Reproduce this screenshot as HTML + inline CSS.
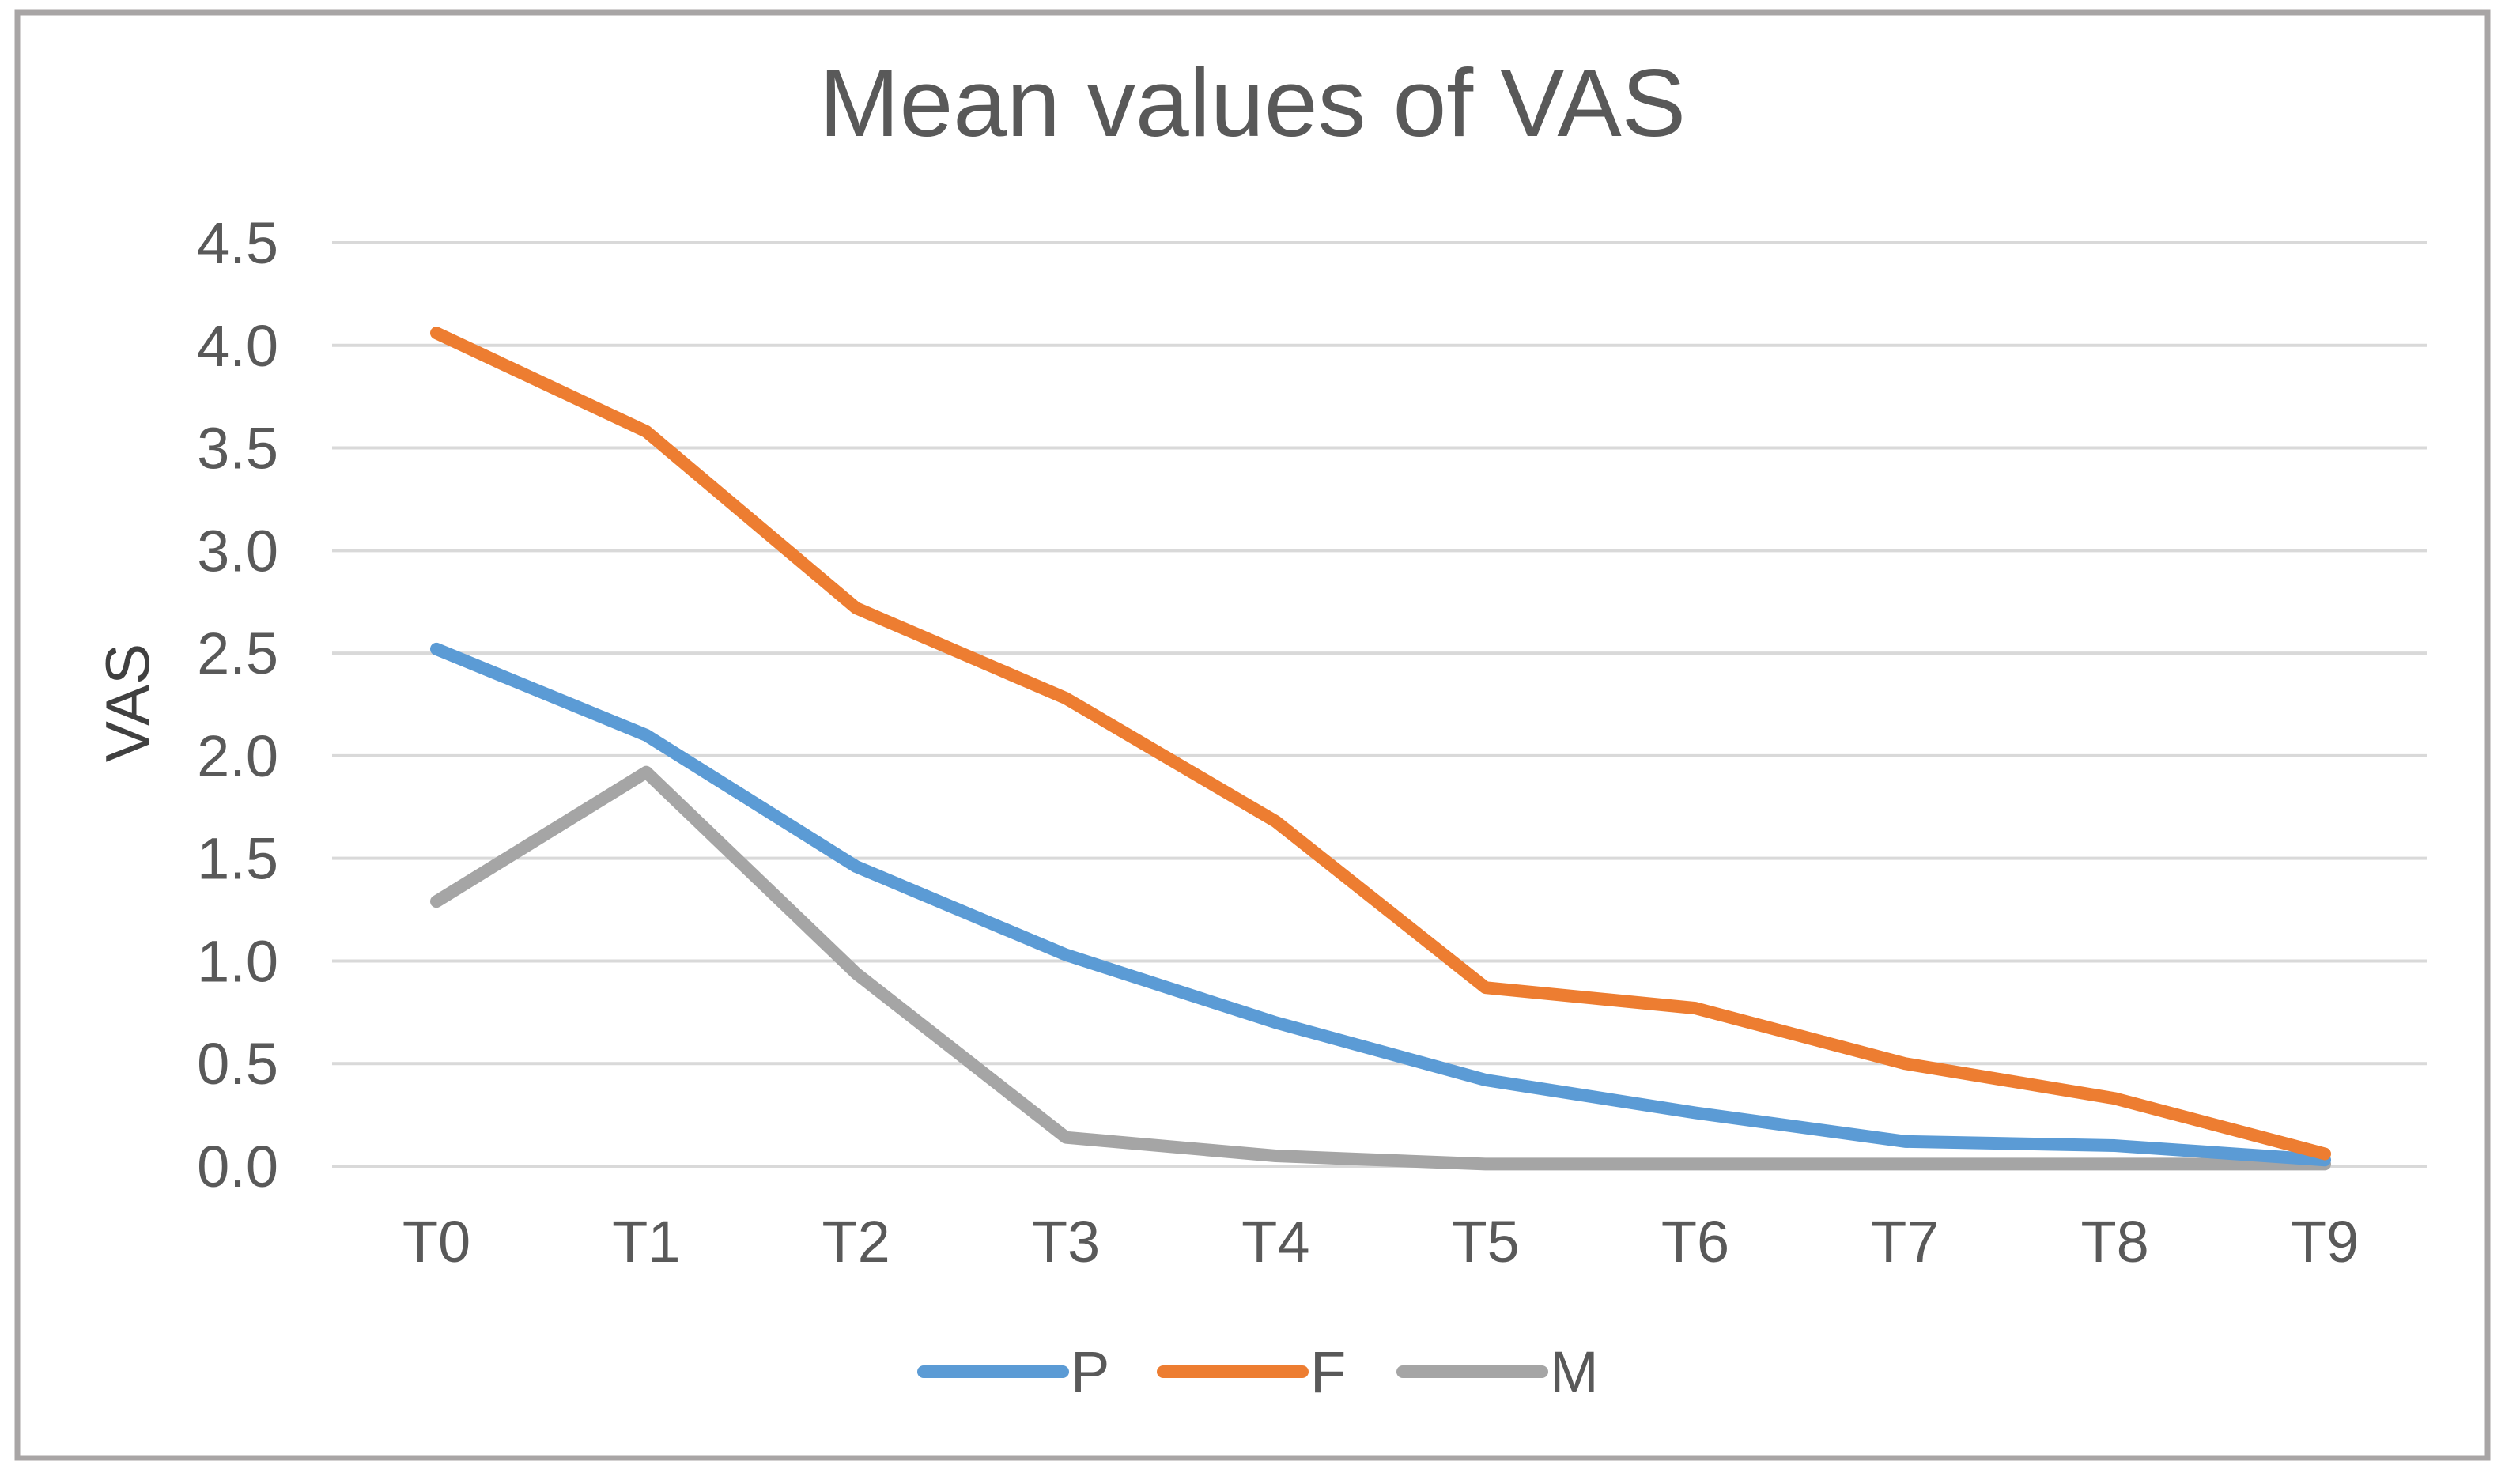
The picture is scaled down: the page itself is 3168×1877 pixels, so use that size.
<!DOCTYPE html>
<html><head><meta charset="utf-8"><style>
html,body{margin:0;padding:0;background:#fff;}
svg{display:block;font-family:"Liberation Sans",sans-serif;}
</style></head><body>
<svg id="chart" width="3168" height="1877" viewBox="0 0 3168 1877" xmlns="http://www.w3.org/2000/svg">
<rect x="22" y="16" width="3124" height="1828" fill="#fff" stroke="#a8a5a5" stroke-width="7"/>
<text x="1584" y="172" font-size="122" fill="#595959" text-anchor="middle">Mean values of VAS</text>
<text transform="translate(188,889) rotate(-90)" font-size="78" fill="#404040" text-anchor="middle">VAS</text>
<g id="grid"></g><g id="yticks"></g><g id="xticks"></g><g id="series"></g><g id="legend"></g>
</svg>
<script>
const categories = ["T0","T1","T2","T3","T4","T5","T6","T7","T8","T9"];
const seriesNames = ["P","F","M"];
const valuesP = [2.52,2.10,1.46,1.03,0.70,0.42,0.26,0.12,0.10,0.03];
const valuesF = [4.06,3.58,2.72,2.28,1.68,0.87,0.77,0.50,0.33,0.06];
const valuesM = [1.29,1.92,0.94,0.14,0.05,0.01,0.01,0.01,0.01,0.01];
const yTickLabels = ["0.0","0.5","1.0","1.5","2.0","2.5","3.0","3.5","4.0","4.5"];
const yTickValues = [0,0.5,1,1.5,2,2.5,3,3.5,4,4.5];

const NS="http://www.w3.org/2000/svg";
const plotL=420, plotR=3069, y0=1475, yTop=307, yMax=4.5;
const x0=552, x9=2940;
function xs(i){return x0+(x9-x0)*i/(categories.length-1);}
function ys(v){return y0-(y0-yTop)*v/yMax;}
function mk(tag,attrs,parent){const e=document.createElementNS(NS,tag);for(const k in attrs)e.setAttribute(k,attrs[k]);parent.appendChild(e);return e;}
const grid=document.getElementById('grid'), yt=document.getElementById('yticks'), xt=document.getElementById('xticks');
yTickValues.forEach((v,i)=>{
  const l=mk('line',{x1:plotL,x2:plotR,y1:ys(v),y2:ys(v),stroke:'#d9d9d9','stroke-width':4},grid);
  
  
  const t=mk('text',{x:352,y:ys(v)+26,'font-size':74,fill:'#595959','text-anchor':'end'},yt);
  t.textContent=yTickLabels[i];
  
  
});
categories.forEach((c,i)=>{
  const t=mk('text',{x:xs(i),y:1596,'font-size':74,fill:'#595959','text-anchor':'middle'},xt);
  t.textContent=c;
  
  
});
const colors=["#5b9bd5","#ed7d31","#a5a5a5"];
const data=[valuesP,valuesF,valuesM];
const sg=document.getElementById('series');
[2,0,1].forEach(k=>{
  const pts=data[k].map((v,i)=>xs(i)+','+ys(v)).join(' ');
  const p=mk('polyline',{points:pts,fill:'none',stroke:colors[k],'stroke-width':16,'stroke-linejoin':'round','stroke-linecap':'round'},sg);
  
  
});
const lg=document.getElementById('legend');
const lx=[1168,1471,1774];
seriesNames.forEach((n,k)=>{
  const l=mk('line',{x1:lx[k],x2:lx[k]+176,y1:1735,y2:1735,stroke:colors[k],'stroke-width':16,'stroke-linecap':'round'},lg);
  
  
  const t=mk('text',{x:lx[k]+186,y:1761,'font-size':74,fill:'#595959'},lg);
  t.textContent=n;
  
  
});
</script>
</body></html>
